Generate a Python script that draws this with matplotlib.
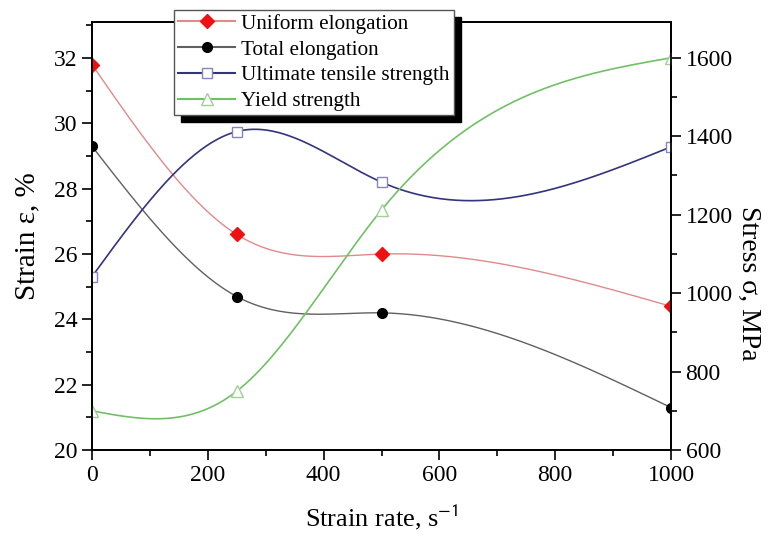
import numpy as np
import matplotlib
matplotlib.use("Agg")
import matplotlib.pyplot as plt
from matplotlib.lines import Line2D
from matplotlib.ticker import MultipleLocator

plt.rcParams['font.family'] = ['Liberation Serif', 'DejaVu Serif']
plt.rcParams['mathtext.fontset'] = 'stix'

# data
rate = [0, 250, 500, 1000]
uniform_elong = [31.8, 26.6, 26.0, 24.4]      # strain, %
total_elong = [29.3, 24.7, 24.2, 21.3]        # strain, %
uts = [1042, 1412, 1283, 1373]                # MPa
yield_str = [700, 750, 1212, 1600]            # MPa


def smooth(x, y, n=300):
    # natural cubic spline through the points (like Origin's spline connect)
    x = np.asarray(x, float)
    y = np.asarray(y, float)
    k = len(x)
    h = np.diff(x)
    A = np.zeros((k, k))
    b = np.zeros(k)
    A[0, 0] = A[-1, -1] = 1
    for i in range(1, k - 1):
        A[i, i - 1] = h[i - 1]
        A[i, i] = 2 * (h[i - 1] + h[i])
        A[i, i + 1] = h[i]
        b[i] = 6 * ((y[i + 1] - y[i]) / h[i] - (y[i] - y[i - 1]) / h[i - 1])
    m = np.linalg.solve(A, b)
    xs = np.linspace(x[0], x[-1], n)
    idx = np.clip(np.searchsorted(x, xs) - 1, 0, k - 2)
    x0, x1 = x[idx], x[idx + 1]
    hh = x1 - x0
    t0, t1 = x1 - xs, xs - x0
    ys = (m[idx] * t0 ** 3 + m[idx + 1] * t1 ** 3) / (6 * hh) \
        + (y[idx] / hh - m[idx] * hh / 6) * t0 \
        + (y[idx + 1] / hh - m[idx + 1] * hh / 6) * t1
    return xs, ys


fig = plt.figure(figsize=(7.69, 5.39), dpi=100)
ax = fig.add_axes([0.1196, 0.165, 0.753, 0.794])
ax2 = ax.twinx()

red_line, red_mk = '#e08a8a', '#ee1111'
blk_line, blk_mk = '#606060', 'black'
blu_line, blu_mk = '#33337f', '#8585c0'
grn_line, grn_mk = '#72c066', '#a0d098'

xs, ys = smooth(rate, uniform_elong)
ax.plot(xs, ys, color=red_line, lw=1)
ax.plot(rate, uniform_elong, 'D', color=red_mk, ms=7, ls='none')
xs, ys = smooth(rate, total_elong)
ax.plot(xs, ys, color=blk_line, lw=1)
ax.plot(rate, total_elong, 'o', color=blk_mk, ms=7, ls='none')

xs, ys = smooth(rate, uts)
ax2.plot(xs, ys, color=blu_line, lw=1.2)
ax2.plot(rate, uts, 's', mfc='white', mec=blu_mk, ms=7, mew=1, ls='none')
xs, ys = smooth(rate, yield_str)
ax2.plot(xs, ys, color=grn_line, lw=1.2)
ax2.plot(rate, yield_str, '^', mfc='white', mec=grn_mk, ms=8, mew=1, ls='none')

ax.set_xlim(0, 1000)
ax.set_ylim(20, 33.1)
ax2.set_ylim(600, 1691)
ax.set_xticks(np.arange(0, 1001, 200))
ax.xaxis.set_minor_locator(MultipleLocator(100))
ax.set_yticks(np.arange(20, 33, 2))
ax.yaxis.set_minor_locator(MultipleLocator(1))
ax2.set_yticks(np.arange(600, 1601, 200))
ax2.yaxis.set_minor_locator(MultipleLocator(100))

for a in (ax, ax2):
    a.tick_params(which='major', direction='out', length=7, width=1.2, labelsize=17)
    a.tick_params(which='minor', direction='out', length=4, width=1.2)
    for s in a.spines.values():
        s.set_linewidth(1.3)
ax.tick_params(top=False, which='both')

ax.set_xlabel('Strain rate, s$^{\\mathsf{-1}}$', fontsize=19, labelpad=12)
ax.set_ylabel('Strain \u03b5, %', fontsize=21, labelpad=10)
ax2.set_ylabel('Stress \u03c3, MPa', fontsize=20, rotation=270, va='bottom')
ax2.yaxis.set_label_coords(1.112, 0.39)

handles = [
    Line2D([], [], color=red_line, marker='D', mfc=red_mk, mec=red_mk, ms=7),
    Line2D([], [], color=blk_line, marker='o', mfc=blk_mk, mec=blk_mk, ms=7),
    Line2D([], [], color=blu_line, marker='s', mfc='white', mec=blu_mk, ms=7),
    Line2D([], [], color=grn_line, marker='^', mfc='white', mec=grn_mk, ms=8),
]
labels = ['Uniform elongation', 'Total elongation',
          'Ultimate tensile strength', 'Yield strength']
leg = fig.legend(handles, labels, loc='upper left', bbox_to_anchor=(0.226, 0.982),
                 fontsize=15.2, frameon=True, fancybox=False, handlelength=2.7,
                 handletextpad=0.3, labelspacing=0.28, borderpad=0.2,
                 borderaxespad=0, edgecolor='#555555',
                 shadow={'color': 'black', 'alpha': 1, 'ox': 5, 'oy': -5})
leg.get_frame().set_linewidth(1)
leg.set_zorder(10)

fig.savefig('out.png', dpi=100)
